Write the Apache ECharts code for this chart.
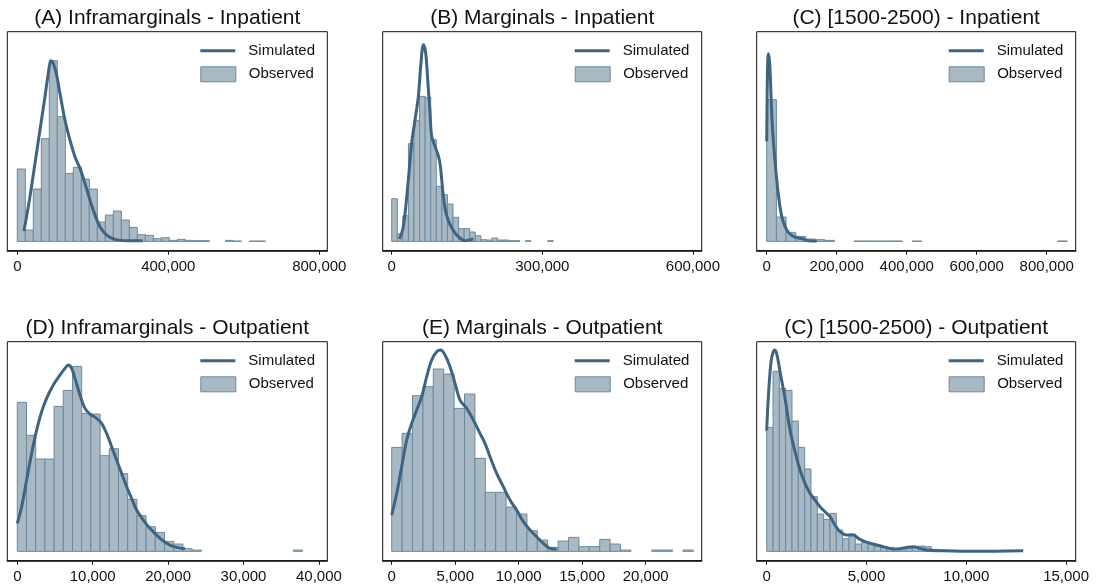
<!DOCTYPE html>
<html>
<head>
<meta charset="utf-8">
<script src="https://cdn.jsdelivr.net/npm/echarts@6/dist/echarts.min.js"></script>
<style>
  html, body { margin: 0; padding: 0; background: #fff; }
  #chart { width: 1096px; height: 588px; }
</style>
</head>
<body>
<div id="chart"></div>
<script>
// heights are relative frequencies (no y scale is shown on the figure)

// (A) Inframarginals - Inpatient
const aBinWidth = 21200;
const aObserved = [217, 34, 157, 308, 542, 374, 204, 222, 187, 157, 58, 79, 91, 64, 42, 20, 18, 8, 11, 3, 6, 3, 2, 2, 0, 0, 3, 1, 0, 1, 1];
const aSimX = [17660, 33550, 46800, 60040, 73290, 82120, 89180, 95360, 104190, 113020, 126270, 139510, 152760, 166000, 179250, 192490, 205740, 218980, 236640, 258720, 289620, 332000];
const aSimY = [31, 134, 234, 334, 434, 504, 542, 534, 499, 444, 364, 304, 254, 219, 174, 124, 79, 44, 19, 6, 2, 2];
const aTicks = [0, 400000, 800000];

// (B) Marginals - Inpatient
const bBinWidth = 11100;
const bObserved = [128, 23, 77, 293, 362, 435, 432, 305, 165, 140, 112, 72, 38, 38, 28, 17, 5, 4, 10, 4, 4, 2, 2, 0, 2, 0, 0, 0, 2];
const bSimX = [15270, 23240, 33200, 39840, 46480, 53120, 57770, 63080, 67730, 71710, 76360, 79680, 86320, 94950, 99600, 102900, 108200, 116200, 126200, 136100, 146100, 156000, 162700];
const bSimY = [7, 45, 185, 295, 365, 435, 525, 590, 565, 485, 385, 315, 285, 245, 185, 135, 85, 50, 25, 10, 2, 5, 7];
const bTicks = [0, 300000, 600000];

// (C) [1500-2500) - Inpatient
const cBinWidth = 27700;
const cObserved = [425, 73, 27, 15, 7, 5, 3, 0, 0, 1, 1, 1, 1, 1, 0, 1, 0, 0, 0, 0, 0, 0, 0, 0, 0, 0, 0, 0, 0, 0, 1];
const cSimX = [0, 1500, 3000, 4800, 8500, 12400, 16200, 21900, 28600, 35200, 42900, 52400, 61900, 76200, 90500, 104800, 119000, 142900];
const cSimY = [300, 460, 545, 563, 535, 435, 345, 265, 185, 125, 75, 45, 27, 15, 10, 7, 2, 1];
const cTicks = [0, 200000, 400000, 600000, 800000];

// (D) Inframarginals - Outpatient
const dBinWidth = 1220;
const dObserved = [447, 348, 277, 277, 435, 483, 555, 414, 412, 287, 308, 233, 156, 107, 74, 57, 30, 22, 8, 4, 0, 0, 0, 0, 0, 0, 0, 0, 0, 0, 4];
const dSimX = [0, 575, 1238, 1900, 2564, 3227, 3890, 4774, 5658, 6321, 6763, 7205, 7647, 8310, 8973, 9636, 10520, 11183, 11846, 12509, 13172, 13835, 14498, 15161, 15824, 16708, 17592, 18476, 19360, 20244, 21128, 22233];
const dSimY = [84, 134, 214, 294, 364, 419, 459, 499, 529, 549, 559, 549, 519, 469, 429, 412, 399, 384, 354, 314, 274, 234, 194, 159, 124, 94, 69, 49, 31, 19, 12, 8];
const dTicks = [0, 10000, 20000, 30000, 40000];

// (E) Marginals - Outpatient
const eBinWidth = 819;
const eObserved = [312, 354, 467, 494, 547, 532, 429, 472, 279, 177, 177, 133, 112, 62, 34, 12, 31, 42, 14, 14, 36, 22, 4, 0, 0, 4, 4, 0, 4];
const eSimX = [0, 394, 787, 1181, 1574, 1968, 2362, 2755, 3149, 3542, 3857, 4198, 4592, 4986, 5379, 5904, 6429, 6954, 7347, 7741, 8266, 8790, 9315, 9840, 10365, 10890, 11414, 11939, 12464, 12989];
const eSimY = [109, 174, 254, 334, 384, 424, 464, 524, 574, 599, 604, 589, 554, 504, 454, 429, 394, 354, 324, 284, 234, 194, 154, 124, 89, 64, 44, 24, 9, 6];
const eTicks = [0, 5000, 10000, 15000, 20000];

// (C) [1500-2500) - Outpatient
const fBinWidth = 317;
const fObserved = [372, 540, 489, 483, 391, 312, 247, 164, 112, 96, 114, 64, 38, 52, 22, 26, 20, 16, 14, 12, 8, 8, 10, 12, 16, 14, 6, 4, 3, 3, 2, 2, 2, 1, 1, 1, 1, 1, 1, 1];
const fSimX = [0, 83, 217, 334, 417, 534, 668, 918, 1168, 1419, 1669, 1919, 2170, 2420, 2670, 2921, 3171, 3421, 3672, 4006, 4339, 4590, 4924, 5341, 5842, 6342, 6676, 7010, 7344, 7677, 8011, 8678, 10348, 12851];
const fSimY = [362, 464, 569, 600, 604, 584, 539, 459, 364, 299, 244, 204, 174, 154, 134, 119, 104, 79, 59, 49, 49, 39, 29, 22, 14, 7, 8, 12, 14, 9, 4, 2, 0, 2];
const fTicks = [0, 5000, 10000, 15000];

const fontFamily = '"Liberation Sans", Arial, Helvetica, sans-serif';
const lineColor = '#3e6482';
const barFill = '#a9b9c4';
const barEdge = '#6a899e';

const panels = [
  { title: '(A) Inframarginals - Inpatient', left: 7.3, top: 31.7, width: 320, xMin: -26490, xMax: 821200, ticks: aTicks, binWidth: aBinWidth, obs: aObserved, simX: aSimX, simY: aSimY },
  { title: '(B) Marginals - Inpatient', left: 382.7, top: 31.7, width: 319, xMin: -17930, xMax: 617500, ticks: bTicks, binWidth: bBinWidth, obs: bObserved, simX: bSimX, simY: bSimY },
  { title: '(C) [1500-2500) - Inpatient', left: 756.7, top: 31.7, width: 319, xMin: -28570, xMax: 882800, ticks: cTicks, binWidth: cBinWidth, obs: cObserved, simX: cSimX, simY: cSimY },
  { title: '(D) Inframarginals - Outpatient', left: 7.3, top: 341.7, width: 320, xMin: -1326, xMax: 41110, ticks: dTicks, binWidth: dBinWidth, obs: dObserved, simX: dSimX, simY: dSimY },
  { title: '(E) Marginals - Outpatient', left: 382.7, top: 341.7, width: 319, xMin: -709, xMax: 24410, ticks: eTicks, binWidth: eBinWidth, obs: eObserved, simX: eSimX, simY: eSimY },
  { title: '(C) [1500-2500) - Outpatient', left: 756.7, top: 341.7, width: 319, xMin: -501, xMax: 15480, ticks: fTicks, binWidth: fBinWidth, obs: fObserved, simX: fSimX, simY: fSimY }
];

function renderHistBar(params, api) {
  const h = api.value(2);
  if (!h) return null;
  const p0 = api.coord([api.value(0), 0]);
  const p1 = api.coord([api.value(1), h]);
  return {
    type: 'rect',
    shape: { x: p0[0], y: p1[1], width: p1[0] - p0[0], height: p0[1] - p1[1] },
    style: { fill: barFill, stroke: barEdge, lineWidth: 1 }
  };
}

const grids = [], xAxes = [], yAxes = [], series = [], titles = [], legends = [];

panels.forEach((p, i) => {
  grids.push({
    left: p.left, top: p.top, width: p.width, height: 219,
    show: true, borderColor: '#111', borderWidth: 1, backgroundColor: '#fff'
  });
  xAxes.push({
    type: 'value', gridIndex: i, min: p.xMin, max: p.xMax,
    axisLine: { onZero: false, lineStyle: { color: '#111', width: 1.5 } },
    axisTick: { customValues: p.ticks, length: 4, lineStyle: { color: '#111' } },
    axisLabel: {
      customValues: p.ticks, margin: 9, fontSize: 15, color: '#111', fontFamily,
      formatter: v => v.toLocaleString('en-US')
    },
    splitLine: { show: false }
  });
  yAxes.push({ type: 'value', gridIndex: i, min: -28, max: 629, show: false });

  series.push({
    type: 'custom', name: 'Observed', xAxisIndex: i, yAxisIndex: i,
    renderItem: renderHistBar,
    encode: { x: [0, 1], y: 2 },
    data: p.obs.map((h, k) => [k * p.binWidth, (k + 1) * p.binWidth, h]),
    itemStyle: { color: barFill },
    z: 2
  });
  series.push({
    type: 'line', name: 'Simulated', xAxisIndex: i, yAxisIndex: i,
    data: p.simX.map((x, k) => [x, p.simY[k]]),
    symbol: 'none', showSymbol: false, smooth: 0.35,
    lineStyle: { color: lineColor, width: 3 },
    itemStyle: { color: lineColor },
    z: 3
  });

  titles.push({
    text: p.title, left: p.left + p.width / 2, textAlign: 'center', top: p.top - 23.5, padding: 0,
    textStyle: { fontSize: 21, fontWeight: 'normal', color: '#111', fontFamily }
  });

  const legendLeft = p.left + p.width - 127;
  const legendText = { fontSize: 15, color: '#111', fontFamily, padding: [0, 0, 0, 8] };
  legends.push({
    left: legendLeft, top: p.top + 11.5, padding: 0, selectedMode: false,
    itemWidth: 35, itemHeight: 3, textStyle: legendText,
    data: [{ name: 'Simulated', icon: 'rect', itemStyle: { color: lineColor, borderWidth: 0 } }]
  });
  legends.push({
    left: legendLeft, top: p.top + 34.6, padding: 0, selectedMode: false,
    itemWidth: 35, itemHeight: 15, textStyle: legendText,
    data: [{ name: 'Observed', icon: 'rect', itemStyle: { color: barFill, borderColor: barEdge, borderWidth: 1 } }]
  });
});

const chart = echarts.init(document.getElementById('chart'), null, { renderer: 'canvas' });
chart.setOption({
  backgroundColor: '#fff',
  animation: false,
  title: titles,
  legend: legends,
  grid: grids,
  xAxis: xAxes,
  yAxis: yAxes,
  series: series
});
window.addEventListener('resize', () => chart.resize());
</script>
</body>
</html>
